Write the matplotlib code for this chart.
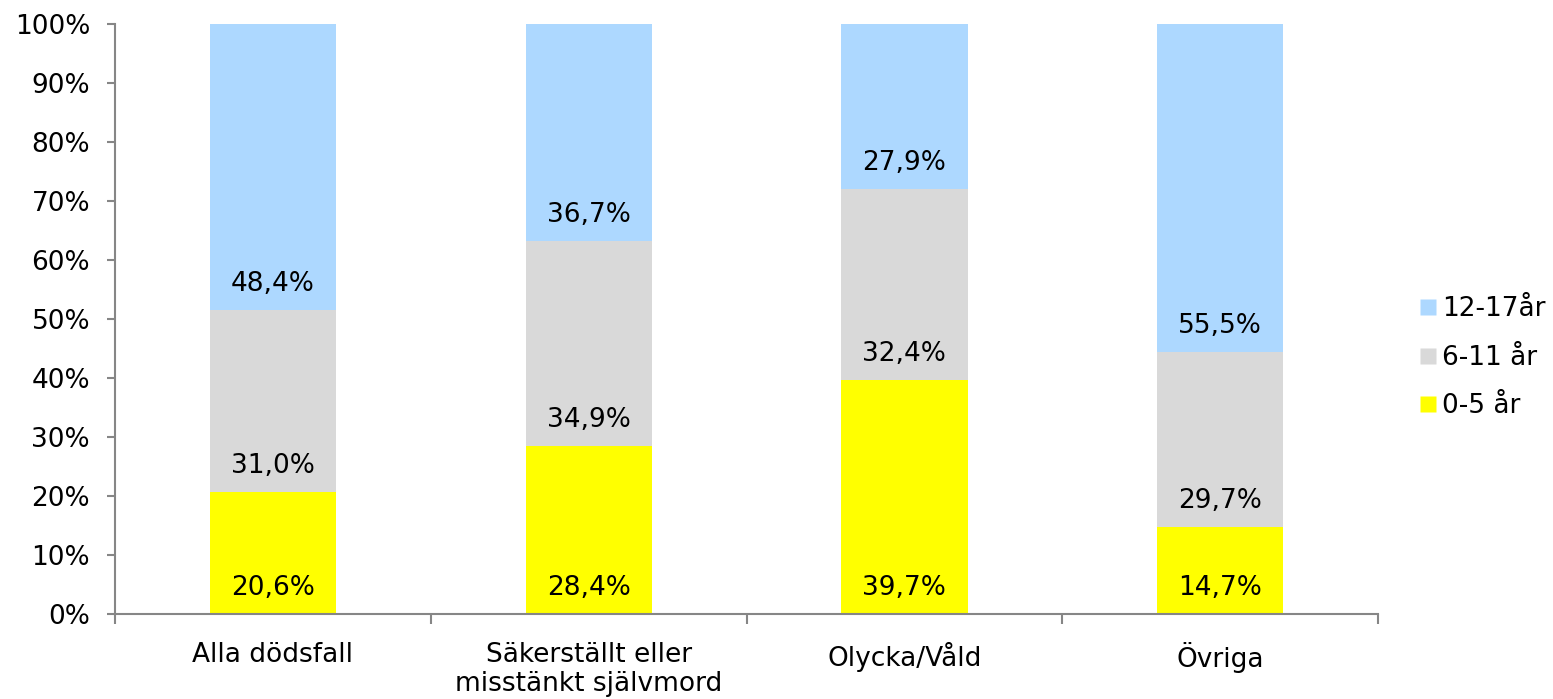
import matplotlib.pyplot as plt
from matplotlib.lines import Line2D
import numpy as np

# data
categories = ['Alla dödsfall', 'Säkerställt eller\nmisstänkt självmord', 'Olycka/Våld', 'Övriga']
age_0_5 = [20.6, 28.4, 39.7, 14.7]
age_6_11 = [31.0, 34.9, 32.4, 29.7]
age_12_17 = [48.4, 36.7, 27.9, 55.5]
series_names = ['0-5 år', '6-11 år', '12-17år']
colors = ['#FFFF00', '#D9D9D9', '#ADD8FF']

plt.rcParams['font.family'] = ['DejaVu Sans']
fs = 19

fig = plt.figure(figsize=(15.53, 6.99), dpi=100)
ax = fig.add_axes([0.0741, 0.1216, 0.8132, 0.8441])

x = np.arange(len(categories))
data = np.array([age_0_5, age_6_11, age_12_17])
totals = data.sum(axis=0)  # 100% stacked, as in the original
bottom = np.zeros(len(categories))
for vals, col in zip(data, colors):
    h = vals / totals * 100
    ax.bar(x, h, width=0.4, bottom=bottom, color=col, edgecolor='none', zorder=2)
    for xi, b, v in zip(x, bottom, vals):
        ax.annotate(f'{v:.1f}%'.replace('.', ','), (xi, b), xytext=(0, 18.7),
                    textcoords='offset points', ha='center', va='center',
                    fontsize=fs, color='#000000', zorder=3)
    bottom = bottom + h

ax.set_xlim(-0.5, 3.5)
ax.set_ylim(0, 100)
ax.set_yticks(np.arange(0, 101, 10))
ax.set_yticklabels([f'{v}%' for v in range(0, 101, 10)], fontsize=fs)
ax.set_xticks(x)
ax.set_xticklabels(categories, fontsize=fs, linespacing=1.18)
ax.set_xticks(np.arange(-0.5, 4, 1), minor=True)
ax.tick_params(axis='x', which='major', length=0, pad=20)
ax.tick_params(axis='x', which='minor', length=7, width=1.5, color='#868686', direction='out')
ax.tick_params(axis='y', length=6, width=1.5, color='#868686', direction='out', pad=12)

for s in ['top', 'right']:
    ax.spines[s].set_visible(False)
for s in ['left', 'bottom']:
    ax.spines[s].set_color('#868686')
    ax.spines[s].set_linewidth(1.5)

handles = [Line2D([], [], marker='s', linestyle='none', markersize=11,
                  markerfacecolor=c, markeredgecolor='none') for c in colors]
leg = fig.legend(handles[::-1], series_names[::-1], loc='center left',
                 bbox_to_anchor=(0.908, 0.488), frameon=False, fontsize=fs,
                 handlelength=0.55, handletextpad=0.25, labelspacing=0.85,
                 borderaxespad=0)

fig.savefig('out.png', dpi=100)
